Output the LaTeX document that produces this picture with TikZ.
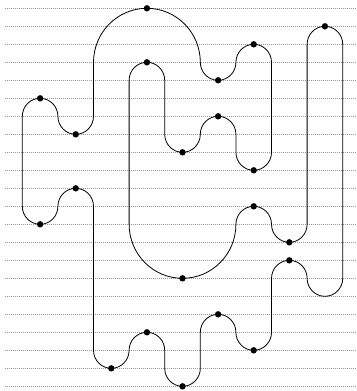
\documentclass[tikz,border=0pt]{standalone}
\usepackage{tikz}

\begin{document}
\begin{tikzpicture}[x=17.8pt,y=18pt]
  \useasboundingbox (-0.253,0.461) rectangle (19.747,-21.26);
  \foreach \j in {0,...,21}
    \draw[gray!80,line width=0.6pt,dash pattern=on 1.2pt off 0.8pt] (0,-\j) -- (19.8,-\j);
  \draw[line width=0.8pt] (8,0) arc[start angle=90,end angle=180,radius=3] -- (5,-6)
    arc[start angle=0,end angle=-180,radius=1] arc[start angle=0,end angle=180,radius=1] -- (1,-11)
    arc[start angle=180,end angle=360,radius=1] arc[start angle=180,end angle=0,radius=1] -- (5,-19)
    arc[start angle=180,end angle=360,radius=1] arc[start angle=180,end angle=0,radius=1] -- (9,-20)
    arc[start angle=180,end angle=360,radius=1] -- (11,-18)
    arc[start angle=180,end angle=0,radius=1] arc[start angle=180,end angle=360,radius=1] -- (15,-15)
    arc[start angle=180,end angle=0,radius=1] arc[start angle=180,end angle=360,radius=1] -- (19,-2)
    arc[start angle=0,end angle=180,radius=1] -- (17,-12)
    arc[start angle=0,end angle=-180,radius=1] arc[start angle=0,end angle=180,radius=1]
    arc[start angle=0,end angle=-180,radius=3] -- (7,-4)
    arc[start angle=180,end angle=0,radius=1] -- (9,-7)
    arc[start angle=180,end angle=360,radius=1] arc[start angle=180,end angle=0,radius=1] -- (13,-8)
    arc[start angle=180,end angle=360,radius=1] -- (15,-3)
    arc[start angle=0,end angle=180,radius=1] arc[start angle=0,end angle=-180,radius=1]
    arc[start angle=0,end angle=90,radius=3] -- cycle;
  % turning points
  \foreach \p in {(8,0),(2,-5),(4,-7),(4,-10),(2,-12),(6,-20),(8,-18),(10,-21),(12,-17),(14,-19),(16,-14),
                  (18,-1),(16,-13),(14,-11),(10,-15),(8,-3),(10,-8),(12,-6),(14,-9),(14,-2),(12,-4)}
    \fill \p circle (3.2pt);
\end{tikzpicture}
\end{document}
